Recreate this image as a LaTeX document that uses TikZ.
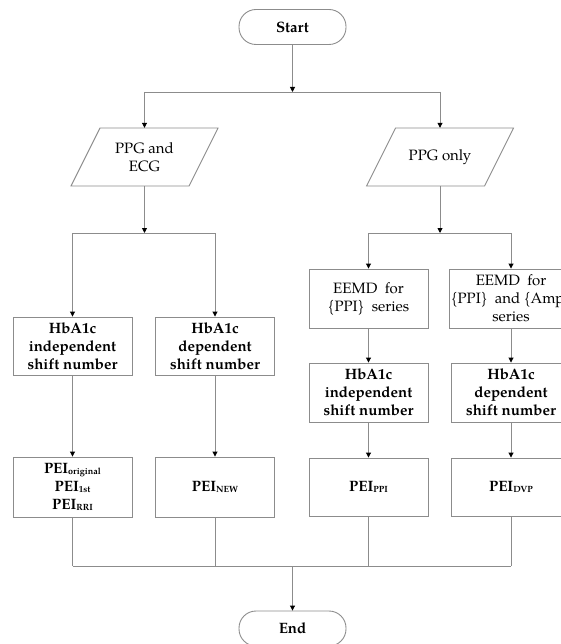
\documentclass[tikz,border=0pt]{standalone}
\usepackage{fontspec}
\setmainfont{texgyrepagella}[Extension=.otf, UprightFont=*-regular, BoldFont=*-bold, ItalicFont=*-italic, BoldItalicFont=*-bolditalic]
\usetikzlibrary{arrows.meta}
\tikzset{
  lk/.style={draw=black!45, line width=0.9pt},
  arr/.style={lk, -{Triangle[length=5pt,width=5pt,black]}},
  box/.style={draw=black!45, line width=0.9pt, minimum width=119pt, align=center, inner sep=2pt, font=\fontsize{15}{18}\selectfont},
  term/.style={draw=black!45, line width=0.9pt, rounded corners=17pt, minimum width=107pt, minimum height=35pt, font=\bfseries\fontsize{15}{18}\selectfont},
  para/.style={minimum width=118pt, minimum height=58pt, align=center, inner sep=0pt, font=\fontsize{15}{18}\selectfont},
}
\newcommand{\sbs}[1]{\raisebox{-1.5pt}{\fontsize{9}{9}\selectfont #1}}
\begin{document}
\begin{tikzpicture}[x=1pt,y=-1pt]
\useasboundingbox (0,0) rectangle (560,644);
% terminals
\node[term] (start) at (292.5,27) {Start};
\node[term] (end) at (292.5,628.5) {End};
% parallelograms
\node[para] (pe) at (144.5,157) {PPG and\\ECG};
\node[para] (po) at (440,157) {PPG only};
\foreach \n in {pe,po}{
  \draw[lk] ([shift={(-44.5,-29)}]\n.center) -- ([shift={(73.5,-29)}]\n.center) -- ([shift={(44.5,29)}]\n.center) -- ([shift={(-73.5,29)}]\n.center) -- cycle;
}
% left branch boxes
\node[box, minimum height=58pt, font=\bfseries\fontsize{15}{18}\selectfont] (hb1) at (72.5,346) {HbA1c\\independent\\shift number};
\node[box, minimum height=58pt, font=\bfseries\fontsize{15}{18}\selectfont] (hb2) at (215,346) {HbA1c\\dependent\\shift number};
\node[box, minimum height=60pt, font=\bfseries\fontsize{15}{18}\selectfont] (pei1) at (72.5,487) {PEI\sbs{original}\\PEI\sbs{1st}\\PEI\sbs{RRI}};
\node[box, minimum height=60pt, font=\bfseries\fontsize{15}{18}\selectfont] (pei2) at (215,487) {PEI\sbs{NEW}};
% right branch boxes
\node[box, minimum height=59pt] (ee1) at (368.5,298.5) {EEMD~~for\\\{PPI\}~~series};
\node[box, minimum height=59pt] (ee2) at (511,298.5) {EEMD~~for\\\{PPI\}~~and \{Amp\}\\series};
\node[box, minimum height=59pt, font=\bfseries\fontsize{15}{18}\selectfont] (hb3) at (368.5,392.5) {HbA1c\\independent\\shift number};
\node[box, minimum height=59pt, font=\bfseries\fontsize{15}{18}\selectfont] (hb4) at (511,392.5) {HbA1c\\dependent\\shift number};
\node[box, minimum height=58pt, font=\bfseries\fontsize{15}{18}\selectfont] (pei3) at (368.5,487) {PEI\sbs{PPI}};
\node[box, minimum height=58pt, font=\bfseries\fontsize{15}{18}\selectfont] (pei4) at (511,487) {PEI\sbs{DVP}};
% junction coordinates
\coordinate (j0) at (292.5,92);
\coordinate (j0l) at (144.5,92);
\coordinate (j0r) at (440,92);
\coordinate (jl) at (144.5,233);
\coordinate (jll) at (72.5,233);
\coordinate (jlr) at (215,233);
\coordinate (jr) at (440,233);
\coordinate (jrl) at (368.5,233);
\coordinate (jrr) at (511,233);
\coordinate (b1) at (72.5,566);
\coordinate (b2) at (215,566);
\coordinate (b3) at (368.5,566);
\coordinate (b4) at (511,566);
\coordinate (bm) at (292.5,566);
% connectors
\draw[arr] (start) -- (j0);
\draw[lk] (j0l) -- (j0r);
\draw[arr] (j0l) -- (pe.north);
\draw[arr] (j0r) -- (po.north);
\draw[arr] (pe.south) -- (jl);
\draw[lk] (jll) -- (jlr);
\draw[arr] (jll) -- (hb1);
\draw[arr] (jlr) -- (hb2);
\draw[arr] (hb1) -- (pei1);
\draw[arr] (hb2) -- (pei2);
\draw[arr] (po.south) -- (jr);
\draw[lk] (jrl) -- (jrr);
\draw[arr] (jrl) -- (ee1);
\draw[arr] (jrr) -- (ee2);
\draw[arr] (ee1) -- (hb3);
\draw[arr] (ee2) -- (hb4);
\draw[arr] (hb3) -- (pei3);
\draw[arr] (hb4) -- (pei4);
\draw[lk] (pei1) -- (b1);
\draw[lk] (pei2) -- (b2);
\draw[lk] (pei3) -- (b3);
\draw[lk] (pei4) -- (b4);
\draw[lk] (b1) -- (b4);
\draw[arr] (bm) -- (end);
\end{tikzpicture}
\end{document}
